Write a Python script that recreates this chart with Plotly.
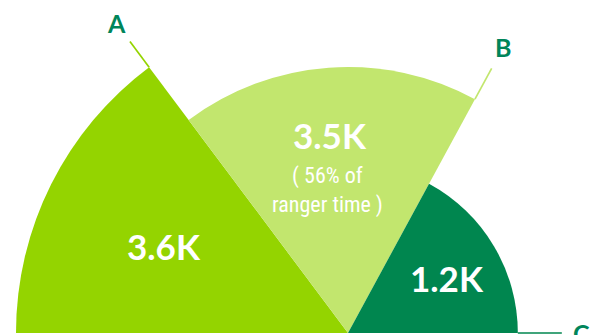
import numpy as np
import plotly.graph_objects as go

# ---------------- data ----------------
categories = ["A", "B", "C"]
values_k = [3.6, 3.5, 1.2]                 # shown as "3.6K" ...
sector_span_deg = [53.2, 65.3, 61.5]       # angular width of each wedge
bar_radius = [99.7, 79.9, 51.0]            # wedge length (radial units, max 100)
note_text = "( 56% of<br>ranger time )"    # note under B's value

# ---------------- styles / layout constants ----------------
colors = ["#94D400", "#C2E66E", "#00864F"]
label_color = "#00855A"
W, H = 696, 335          # figure is wider than the window; right part is cropped like the source
CX, CY = 348, 333        # polar centre in px (from left / from top)
R_MAX = 100.0
PPU = CY / R_MAX         # px per radial unit

leader_len_px = [32, 35, 44]
label_gap_px = [55, 59, 64]
value_pos = [(0.613, 154.6), (0.747, 95.3), (0.666, 29.3)]   # (fraction of wedge, angle)
note_pos = (143.9, 98.0)                                      # (px from centre, angle)

# ---------------- geometry from data ----------------
span = np.array(sector_span_deg)
ends = 180.0 - np.cumsum(span)
theta_c = ends + span / 2.0
leader_theta = ends


def to_xy(r, th):
    t = np.deg2rad(th)
    return r * np.cos(t), r * np.sin(t)


fig = go.Figure()

# leader lines (cartesian overlay aligned with the polar frame)
for i, cat in enumerate(categories):
    r0 = bar_radius[i]
    r1 = r0 + leader_len_px[i] / PPU
    x0, y0 = to_xy(r0, leader_theta[i])
    x1, y1 = to_xy(r1, leader_theta[i])
    fig.add_trace(go.Scatter(x=[x0, x1], y=[y0, y1], mode="lines",
                             line=dict(color=colors[i], width=1.7),
                             hoverinfo="skip", showlegend=False))

fig.add_trace(go.Barpolar(
    r=bar_radius, theta=theta_c, width=sector_span_deg,
    marker=dict(color=colors, line=dict(width=0)),
    hovertext=categories, showlegend=False))

annotations = []
for i, cat in enumerate(categories):
    rl = bar_radius[i] + label_gap_px[i] / PPU
    x, y = to_xy(rl, leader_theta[i])
    annotations.append(dict(x=x, y=y, xref="x", yref="y", text=cat, showarrow=False,
                            xanchor="center", yanchor="middle",
                            font=dict(family="Lato", size=25, color=label_color, weight="bold")))
    frac, ang = value_pos[i]
    x, y = to_xy(bar_radius[i] * frac, ang)
    annotations.append(dict(x=x, y=y, xref="x", yref="y", text=f"{values_k[i]:.1f}K",
                            showarrow=False, xanchor="center", yanchor="middle",
                            font=dict(family="Lato", size=35, color="white", weight="bold")))

x, y = to_xy(note_pos[0] / PPU, note_pos[1])
annotations.append(dict(x=x, y=y, xref="x", yref="y", text=note_text, showarrow=False,
                        xanchor="center", yanchor="middle",
                        font=dict(family="Liberation Sans Narrow, Roboto Condensed, Roboto",
                                  size=22, color="white")))

fig.update_layout(
    width=W, height=H,
    margin=dict(l=0, r=0, t=0, b=0, pad=0),
    paper_bgcolor="white", plot_bgcolor="rgba(0,0,0,0)",
    showlegend=False,
    xaxis=dict(visible=False, range=[-CX / PPU, (W - CX) / PPU], domain=[0, 1], fixedrange=True),
    yaxis=dict(visible=False, range=[-(H - CY) / PPU, CY / PPU], domain=[0, 1], fixedrange=True),
    polar=dict(
        domain=dict(x=[0, 1], y=[(H - CY) / H, 1]),
        sector=[0, 180],
        bgcolor="rgba(0,0,0,0)",
        radialaxis=dict(visible=False, range=[0, R_MAX]),
        angularaxis=dict(visible=False, direction="counterclockwise", rotation=0),
    ),
    annotations=annotations,
)

fig.write_html(
    "out.html",
    config={"displayModeBar": False},
    post_script="document.documentElement.style.overflow='hidden';"
                "document.body.style.overflow='hidden';document.body.style.margin='0';",
)
